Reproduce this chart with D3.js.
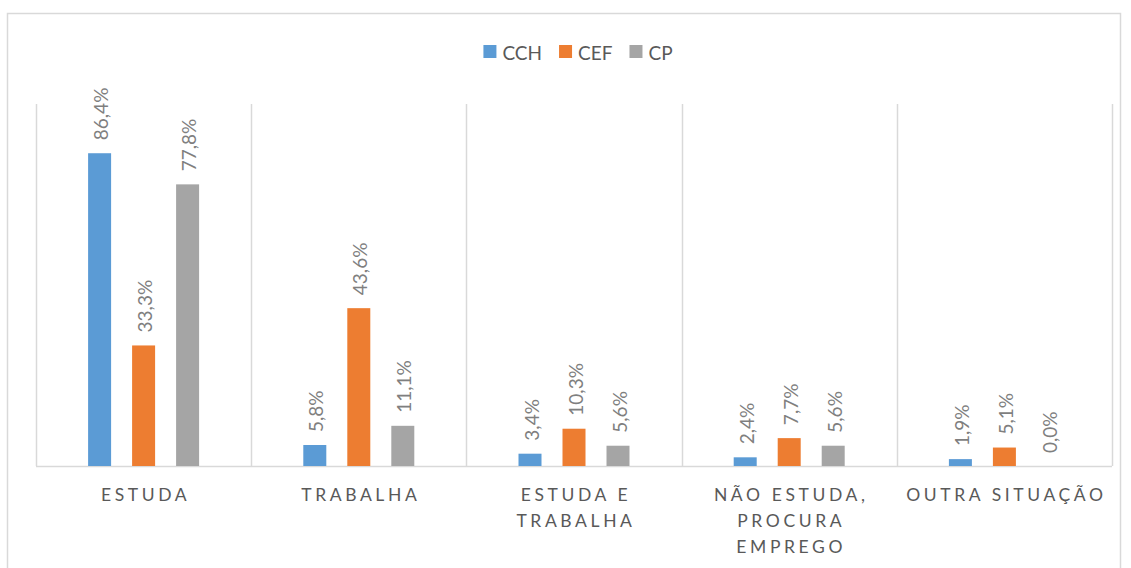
<!DOCTYPE html>
<html>
<head>
<meta charset="utf-8">
<script src="https://cdn.jsdelivr.net/npm/d3@7"></script>
<style>
  html, body { margin: 0; padding: 0; background: #fff; }
  svg { display: block; font-family: Lato, "Open Sans", sans-serif; }
</style>
</head>
<body>
<svg id="chart" width="1131" height="568"></svg>
<script>
const categories = [
  ["ESTUDA"],
  ["TRABALHA"],
  ["ESTUDA E", "TRABALHA"],
  ["NÃO ESTUDA,", "PROCURA", "EMPREGO"],
  ["OUTRA SITUAÇÃO"]
];
const seriesNames = ["CCH", "CEF", "CP"];
const seriesColors = ["#5b9bd5", "#ed7d31", "#a5a5a5"];
const valuesCCH = [86.4, 5.8, 3.4, 2.4, 1.9];
const valuesCEF = [33.3, 43.6, 10.3, 7.7, 5.1];
const valuesCP  = [77.8, 11.1, 5.6, 5.6, 0.0];
const seriesValues = [valuesCCH, valuesCEF, valuesCP];

const svg = d3.select("#chart");
const plot = { left: 36, right: 1112, top: 104, bottom: 466 };

// outer border
svg.append("rect")
  .attr("x", 7.5).attr("y", 13.5)
  .attr("width", 1113).attr("height", 600)
  .attr("fill", "none").attr("stroke", "#d9d9d9").attr("stroke-width", 1.5);

const catIdx = d3.range(categories.length);
const x = d3.scaleBand().domain(catIdx).range([plot.left, plot.right]).paddingInner(0).paddingOuter(0);
const xs = d3.scalePoint().domain(seriesNames).range([-44, 44]);
const y = d3.scaleLinear().domain([0, 100]).range([plot.bottom, plot.top]);
const barW = 23;

// separators
const seps = catIdx.map(i => x(i)).concat([plot.right]);
svg.append("g").selectAll("line").data(seps).join("line")
  .attr("x1", d => Math.round(d) + 0.5).attr("x2", d => Math.round(d) + 0.5)
  .attr("y1", plot.top).attr("y2", plot.bottom)
  .attr("stroke", "#d9d9d9").attr("stroke-width", 1.5);

// baseline
svg.append("line")
  .attr("x1", plot.left).attr("x2", plot.right)
  .attr("y1", plot.bottom + 0.5).attr("y2", plot.bottom + 0.5)
  .attr("stroke", "#d9d9d9").attr("stroke-width", 1.5);

// bars + labels
const barData = [];
seriesNames.forEach((s, si) => {
  seriesValues[si].forEach((v, ci) => barData.push({ s, si, ci, v }));
});
const cx = d => x(d.ci) + x.bandwidth() / 2 + xs(d.s);

svg.append("g").selectAll("rect").data(barData).join("rect")
  .attr("x", d => cx(d) - barW / 2)
  .attr("y", d => y(d.v))
  .attr("width", barW)
  .attr("height", d => y(0) - y(d.v))
  .attr("fill", d => seriesColors[d.si]);

svg.append("g").selectAll("text").data(barData).join("text")
  .attr("transform", d => `translate(${cx(d) + 1},${y(d.v) - 13}) rotate(-90)`)
  .attr("text-anchor", "start")
  .attr("dominant-baseline", "central")
  .attr("fill", "#7f7f7f")
  .attr("font-size", 19)
  .text(d => d3.format(".1f")(d.v).replace(".", ",") + "%");

// category labels
const catG = svg.append("g");
categories.forEach((lines, i) => {
  lines.forEach((ln, li) => {
    catG.append("text")
      .attr("x", x(i) + x.bandwidth() / 2 + 2)
      .attr("y", 501 + li * 26)
      .attr("text-anchor", "middle")
      .attr("fill", "#595959")
      .attr("font-size", 17.5)
      .attr("letter-spacing", 3.6)
      .text(ln);
  });
});

// legend
const leg = svg.append("g");
const legItems = [];
seriesNames.forEach((s, i) => {
  const g = leg.append("g");
  g.append("rect").attr("x", 0).attr("y", -7).attr("width", 13).attr("height", 13).attr("fill", seriesColors[i]);
  const t = g.append("text").attr("x", 19).attr("y", 0).attr("dominant-baseline", "central")
    .attr("fill", "#595959").attr("font-size", 19).text(s);
  const w = 19 + t.node().getComputedTextLength();
  legItems.push({ g, w });
});
const gap = 17;
const total = d3.sum(legItems, d => d.w) + gap * (legItems.length - 1);
let lx = (plot.left + plot.right) / 2 + 4 - total / 2;
legItems.forEach(it => {
  it.g.attr("transform", `translate(${lx},52)`);
  lx += it.w + gap;
});
</script>
</body>
</html>
